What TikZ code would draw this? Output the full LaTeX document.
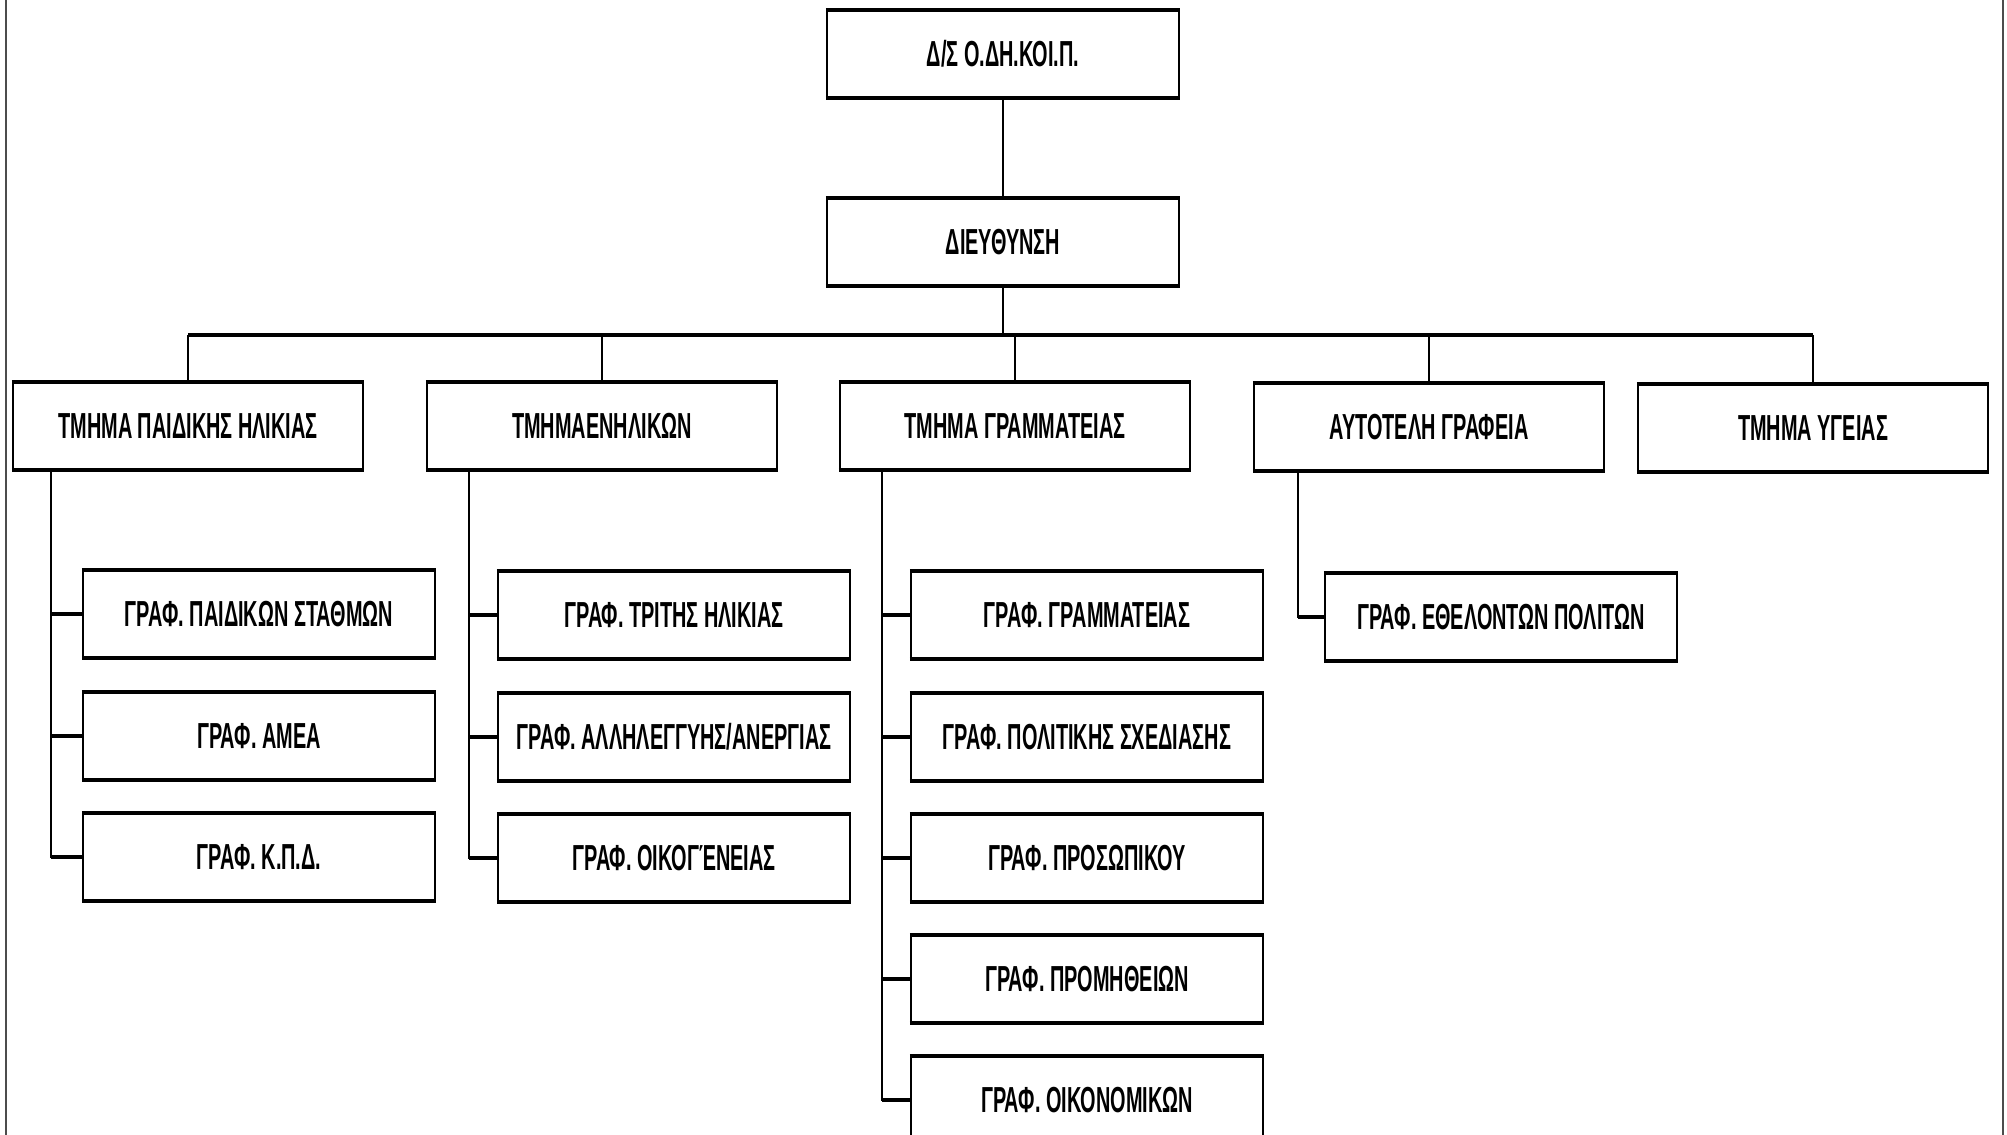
\documentclass[tikz,border=0pt]{standalone}
\usepackage{fontspec}
\setmainfont{Liberation Sans}[FakeStretch=0.55]
\usepackage{tikz}
\usetikzlibrary{positioning, calc}

\begin{document}
\begin{tikzpicture}[
  unit/.style={draw, line width=0.6pt, minimum width=3.52cm, minimum height=0.86cm, inner sep=2pt, font=\bfseries\fontsize{10.3}{12}\selectfont,
    append after command={(\tikzlastnode.north west) edge[line width=1.3pt] (\tikzlastnode.north east)
                          (\tikzlastnode.south west) edge[line width=1.3pt] (\tikzlastnode.south east)}},
  link/.style={line width=0.6pt},
  stub/.style={line width=1.2pt}
]
  \useasboundingbox (0,0) rectangle (20.07,-11.35);
  % scan edges
  \draw[line width=0.4pt, black!70] (0.06,0) -- (0.06,-11.35);
  \draw[line width=0.4pt, black!70] (20.03,0) -- (20.03,-11.35);

  % top levels
  \node[unit] (board) at (10.03,-0.54) {Δ/Σ Ο.ΔΗ.ΚΟΙ.Π.};
  \node[unit] (dir) at (10.03,-2.42) {ΔΙΕΥΘΥΝΣΗ};

  % departments
  \node[unit, minimum width=3.5cm] (child) at (1.88,-4.26) {ΤΜΗΜΑ ΠΑΙΔΙΚΗΣ ΗΛΙΚΙΑΣ};
  \node[unit, minimum width=3.5cm] (adult) at (6.02,-4.26) {ΤΜΗΜΑΕΝΗΛΙΚΩΝ};
  \node[unit, minimum width=3.5cm] (secr) at (10.15,-4.26) {ΤΜΗΜΑ ΓΡΑΜΜΑΤΕΙΑΣ};
  \node[unit, minimum width=3.5cm] (indep) at (14.29,-4.27) {ΑΥΤΟΤΕΛΗ ΓΡΑΦΕΙΑ};
  \node[unit, minimum width=3.5cm] (health) at (18.13,-4.28) {ΤΜΗΜΑ ΥΓΕΙΑΣ};

  % offices
  \node[unit] (child1) at (2.59,-6.14) {ΓΡΑΦ. ΠΑΙΔΙΚΩΝ ΣΤΑΘΜΩΝ};
  \node[unit] (child2) at (2.59,-7.36) {ΓΡΑΦ. ΑΜΕΑ};
  \node[unit] (child3) at (2.59,-8.57) {ΓΡΑΦ. Κ.Π.Δ.};

  \node[unit] (adult1) at (6.74,-6.15) {ΓΡΑΦ. ΤΡΙΤΗΣ ΗΛΙΚΙΑΣ};
  \node[unit] (adult2) at (6.74,-7.37) {ΓΡΑΦ. ΑΛΛΗΛΕΓΓΥΗΣ/ΑΝΕΡΓΙΑΣ};
  \node[unit] (adult3) at (6.74,-8.58) {ΓΡΑΦ. ΟΙΚΟΓΈΝΕΙΑΣ};

  \node[unit] (secr1) at (10.87,-6.15) {ΓΡΑΦ. ΓΡΑΜΜΑΤΕΙΑΣ};
  \node[unit] (secr2) at (10.87,-7.37) {ΓΡΑΦ. ΠΟΛΙΤΙΚΗΣ ΣΧΕΔΙΑΣΗΣ};
  \node[unit] (secr3) at (10.87,-8.58) {ΓΡΑΦ. ΠΡΟΣΩΠΙΚΟΥ};
  \node[unit] (secr4) at (10.87,-9.79) {ΓΡΑΦ. ΠΡΟΜΗΘΕΙΩΝ};
  \node[unit] (secr5) at (10.87,-11.00) {ΓΡΑΦ. ΟΙΚΟΝΟΜΙΚΩΝ};

  \node[unit] (indep1) at (15.01,-6.17) {ΓΡΑΦ. ΕΘΕΛΟΝΤΩΝ ΠΟΛΙΤΩΝ};

  % tree lines
  \coordinate (bus) at (10.03,-3.35);
  \draw[link] (board) -- (dir);
  \draw[link] (dir) -- (bus);
  \draw[stub] (child.north |- bus) -- (health.north |- bus);
  \foreach \d in {child, adult, secr, indep, health}
    \draw[link] (\d.north |- bus) -- (\d.north);

  \coordinate (cs) at ($(child.south west)+(0.39,0)$);
  \coordinate (as) at ($(adult.south west)+(0.43,0)$);
  \coordinate (ss) at ($(secr.south west)+(0.43,0)$);
  \coordinate (is) at ($(indep.south west)+(0.45,0)$);

  \draw[link] (cs) |- (child3.west);
  \draw[link] (as) |- (adult3.west);
  \draw[link] (ss) |- (secr5.west);
  \draw[link] (is) |- (indep1.west);
  \foreach \o in {child1, child2, child3}
    \draw[stub] (\o.west) -- (\o.west -| cs);
  \foreach \o in {adult1, adult2, adult3}
    \draw[stub] (\o.west) -- (\o.west -| as);
  \foreach \o in {secr1, secr2, secr3, secr4, secr5}
    \draw[stub] (\o.west) -- (\o.west -| ss);
  \draw[stub] (indep1.west) -- (indep1.west -| is);
\end{tikzpicture}
\end{document}
